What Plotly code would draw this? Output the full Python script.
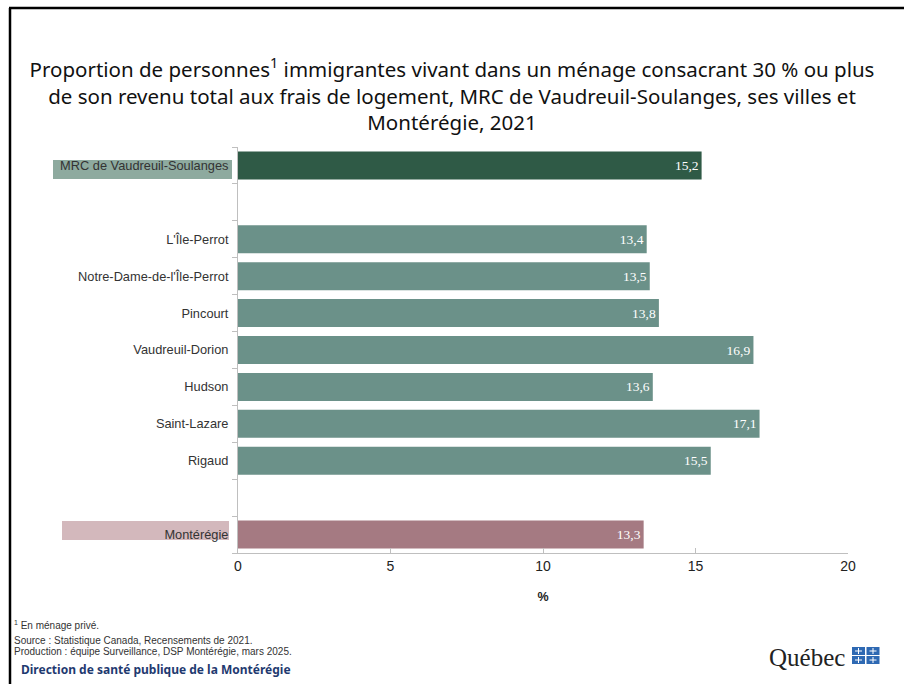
import plotly.graph_objects as go

categories = ["MRC de Vaudreuil-Soulanges", "", "L'Île-Perrot", "Notre-Dame-de-l'Île-Perrot",
              "Pincourt", "Vaudreuil-Dorion", "Hudson", "Saint-Lazare", "Rigaud", "", "Montérégie"]
values = [15.2, None, 13.4, 13.5, 13.8, 16.9, 13.6, 17.1, 15.5, None, 13.3]
bar_colors = ["#2f5a46", "#6b9189", "#6b9189", "#6b9189", "#6b9189", "#6b9189",
              "#6b9189", "#6b9189", "#6b9189", "#6b9189", "#a57a82"]
x_ticks = [0, 5, 10, 15, 20]

W, H = 904, 684
L, R, T, B = 238, 848, 147, 553


def px(x):
    return (x - L) / (R - L)


def py(y):
    return (B - y) / (B - T)


label_slots = [i for i, c in enumerate(categories) if c]
label_text = [categories[i] for i in label_slots]
boundaries = [i - 0.5 for i in range(len(categories) + 1)]
bar_idx = [i for i, v in enumerate(values) if v is not None]
bar_text = [f"{values[i]:.1f}".replace(".", ",") for i in bar_idx]

fig = go.Figure(go.Bar(
    y=bar_idx, x=[values[i] for i in bar_idx], orientation="h",
    marker=dict(color=[bar_colors[i] for i in bar_idx], line=dict(width=0)),
    text=bar_text, textposition="inside", insidetextanchor="end",
    textfont=dict(family="Liberation Serif", size=13.5, color="white"),
    cliponaxis=False, hoverinfo="skip", width=0.76,
))

shapes = [
    # label backgrounds
    dict(type="rect", xref="paper", yref="paper", x0=px(53), x1=px(232), y0=py(179), y1=py(160),
         fillcolor="#8eaa9f", line=dict(width=0), layer="below"),
    dict(type="rect", xref="paper", yref="paper", x0=px(62), x1=px(229), y0=py(540), y1=py(521),
         fillcolor="#d3b8bc", line=dict(width=0), layer="below"),
    # slide frame
    dict(type="line", xref="paper", yref="paper", x0=px(10), x1=px(10), y0=py(8), y1=py(690),
         line=dict(color="black", width=2.5)),
    dict(type="line", xref="paper", yref="paper", x0=px(9), x1=px(910), y0=py(8), y1=py(8),
         line=dict(color="black", width=2.5)),
]
# Québec flag
for (sx, sy) in [(852, 647), (866.5, 647), (852, 656), (866.5, 656)]:
    shapes.append(dict(type="rect", xref="paper", yref="paper", x0=px(sx), x1=px(sx + 13),
                       y0=py(sy + 8), y1=py(sy), fillcolor="#2e69b3", line=dict(width=0)))
    shapes.append(dict(type="line", xref="paper", yref="paper", x0=px(sx + 6.5), x1=px(sx + 6.5),
                       y0=py(sy + 7), y1=py(sy + 1), line=dict(color="white", width=1)))
    shapes.append(dict(type="line", xref="paper", yref="paper", x0=px(sx + 3), x1=px(sx + 10),
                       y0=py(sy + 4), y1=py(sy + 4), line=dict(color="white", width=1)))

foot_font = dict(family="Liberation Sans", size=10, color="#333333")
annotations = [
    dict(text="<sup>1</sup> En ménage privé.", x=px(12), y=py(625), xref="paper", yref="paper",
         xanchor="left", yanchor="middle", showarrow=False, font=foot_font),
    dict(text="Source : Statistique Canada, Recensements de 2021.", x=px(12), y=py(640),
         xref="paper", yref="paper", xanchor="left", yanchor="middle", showarrow=False, font=foot_font),
    dict(text="Production : équipe Surveillance, DSP Montérégie, mars 2025.", x=px(12), y=py(651),
         xref="paper", yref="paper", xanchor="left", yanchor="middle", showarrow=False, font=foot_font),
    dict(text="<b>Direction de santé publique de la Montérégie</b>", x=px(19), y=py(669),
         xref="paper", yref="paper", xanchor="left", yanchor="middle", showarrow=False,
         font=dict(family="Noto Sans", size=12, color="#1f3a70")),
    dict(text="Québec", x=px(847), y=py(657), xref="paper", yref="paper", xanchor="right",
         yanchor="middle", showarrow=False, font=dict(family="Liberation Serif", size=25, color="#222222")),
]

fig.update_layout(
    width=W, height=H,
    margin=dict(l=L, r=W - R, t=T, b=H - B, pad=0),
    paper_bgcolor="white", plot_bgcolor="white",
    showlegend=False,
    title=dict(
        text="Proportion de personnes<sup>1</sup> immigrantes vivant dans un ménage consacrant 30 % ou plus<br>"
             "de son revenu total aux frais de logement, MRC de Vaudreuil-Soulanges, ses villes et<br>"
             "Montérégie, 2021",
        x=0.5, xanchor="center", y=1 - 77 / H, yanchor="top",
        font=dict(family="Noto Sans", size=20.5, color="#111111"),
    ),
    xaxis=dict(range=[0, 20], tickvals=x_ticks, ticktext=[str(v) for v in x_ticks],
               showgrid=False, zeroline=False, showline=True, linecolor="#bfbfbf", linewidth=1,
               ticks="inside", ticklen=5, tickcolor="#bfbfbf",
               tickfont=dict(family="Liberation Sans", size=14, color="#222222"),
               title=dict(text="<b>%</b>", font=dict(family="Liberation Sans", size=12.5, color="#222222"),
                          standoff=19)),
    yaxis=dict(range=[len(categories) - 0.5, -0.5], tickvals=label_slots, ticktext=label_text,
               showgrid=False, zeroline=False, showline=True, linecolor="#bfbfbf", linewidth=1,
               ticks="", tickfont=dict(family="Liberation Sans", size=12.8, color="#333333"),
               ticklabelstandoff=6,
               minor=dict(tickvals=boundaries, ticks="outside", ticklen=5, tickcolor="#bfbfbf",
                          showgrid=False)),
    shapes=shapes,
    annotations=annotations,
    font=dict(family="Liberation Sans"),
)

fig.write_html("out.html", config={"displayModeBar": False},
               post_script="document.body.style.margin='0';")
